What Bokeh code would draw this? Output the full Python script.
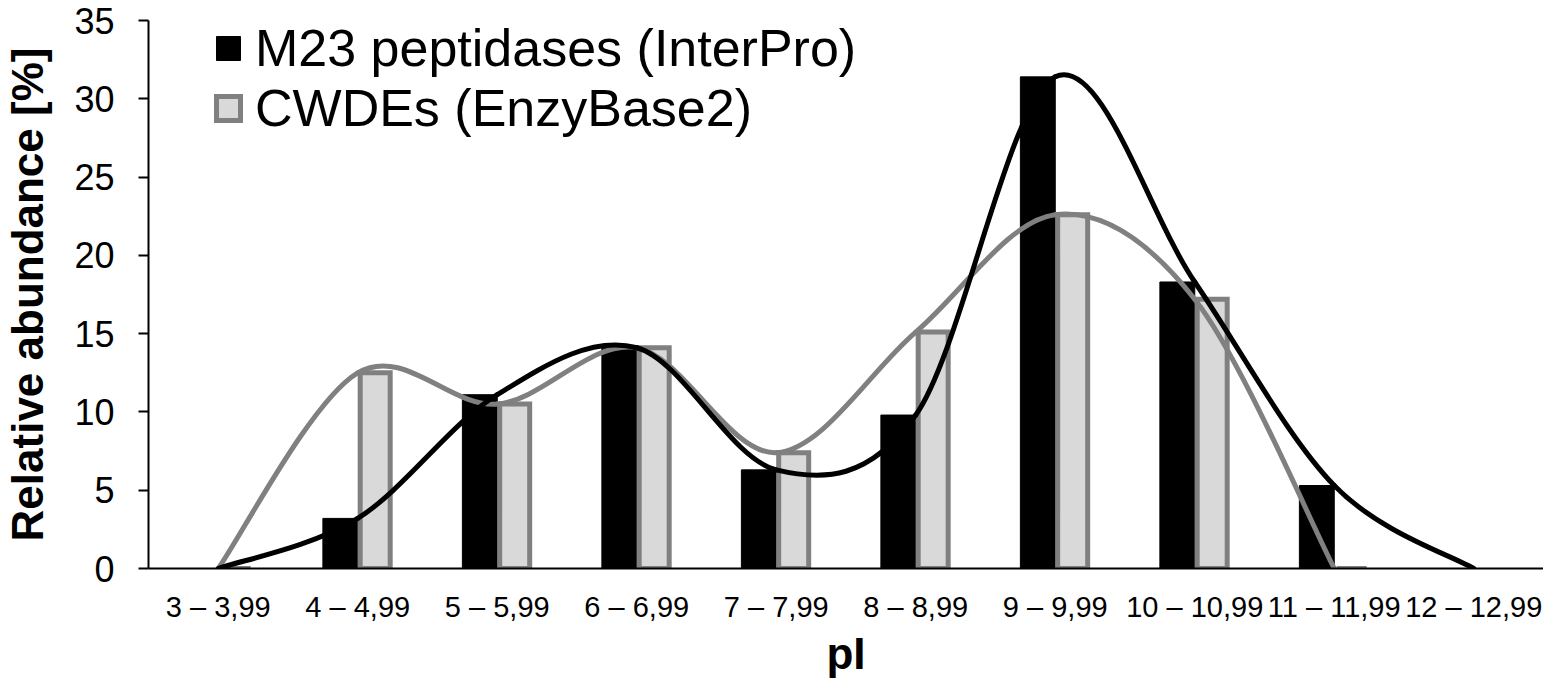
import numpy as np
from bokeh.plotting import figure
from bokeh.models import Range1d, FixedTicker, Legend, LegendItem
from bokeh.embed import file_html
from bokeh.resources import INLINE

# ---------------- data ----------------
categories = ["3 – 3,99", "4 – 4,99", "5 – 5,99", "6 – 6,99", "7 – 7,99",
              "8 – 8,99", "9 – 9,99", "10 – 10,99", "11 – 11,99", "12 – 12,99"]
m23_values = [0, 3.2, 11.1, 14.1, 6.3, 9.8, 31.4, 18.3, 5.3, 0]
cwde_values = [0, 12.5, 10.5, 14.1, 7.4, 15.1, 22.6, 17.2, 0]   # no value for 12 – 12,99
y_ticks = [0, 5, 10, 15, 20, 25, 30, 35]
series_names = ["M23 peptidases (InterPro)", "CWDEs (EnzyBase2)"]

FONT = "Liberation Sans"
BLACK = "#000000"
GREY_LINE = "#808080"
GREY_FILL = "#d9d9d9"


def smooth_segments(vals):
    """Cubic Bezier segments of a Catmull-Rom style smoothed line (Excel-like)."""
    ys = np.asarray(vals, dtype=float)
    xs = np.arange(len(ys), dtype=float)
    n = len(ys)
    seg = {k: [] for k in ["x0", "y0", "x1", "y1", "cx0", "cy0", "cx1", "cy1"]}
    for i in range(n - 1):
        a = max(i - 1, 0)
        b = min(i + 2, n - 1)
        seg["x0"].append(xs[i]); seg["y0"].append(ys[i])
        seg["x1"].append(xs[i + 1]); seg["y1"].append(ys[i + 1])
        seg["cx0"].append(xs[i] + (xs[i + 1] - xs[a]) / 6.0)
        seg["cy0"].append(ys[i] + (ys[i + 1] - ys[a]) / 6.0)
        seg["cx1"].append(xs[i + 1] - (xs[b] - xs[i]) / 6.0)
        seg["cy1"].append(ys[i + 1] - (ys[b] - ys[i]) / 6.0)
    return seg


p = figure(width=1543, height=681, output_backend="svg", toolbar_location=None,
           x_range=Range1d(-0.5, len(categories) - 0.5), y_range=Range1d(0, 35),
           min_border_left=144, min_border_right=0, min_border_top=20,
           min_border_bottom=113)
p.outline_line_color = None
p.xgrid.visible = False
p.ygrid.visible = False
p.background_fill_color = "white"
p.border_fill_color = "white"

bar_w = 0.25
grey_w = 0.215
xs_m23 = [i - bar_w / 2 for i in range(len(m23_values))]
xs_cwde = [i + bar_w / 2 for i in range(len(cwde_values))]

r_black = p.vbar(x=xs_m23, top=m23_values, bottom=0, width=bar_w,
                 fill_color=BLACK, line_color=BLACK, line_width=1)
r_grey = p.vbar(x=xs_cwde, top=cwde_values, bottom=0, width=grey_w,
                fill_color=GREY_FILL, line_color=GREY_LINE, line_width=5,
                line_join="miter")

sg = smooth_segments(cwde_values)
p.bezier(line_color=GREY_LINE, line_width=5, line_cap="round", **sg)
sb = smooth_segments(m23_values)
p.bezier(line_color=BLACK, line_width=5, line_cap="round", **sb)

# axes
xa = p.xaxis[0]
xa.ticker = FixedTicker(ticks=list(range(len(categories))))
xa.major_label_overrides = {i: c for i, c in enumerate(categories)}
xa.major_tick_line_color = None
xa.minor_tick_line_color = None
xa.axis_line_width = 2
xa.major_label_text_font = FONT
xa.major_label_text_font_size = "29px"
xa.major_label_text_color = "black"
xa.major_label_standoff = 16
xa.axis_label = "pI"
xa.axis_label_text_font = FONT
xa.axis_label_text_font_style = "bold"
xa.axis_label_text_font_size = "44px"
xa.axis_label_text_color = "black"
xa.axis_label_standoff = 3

ya = p.yaxis[0]
ya.ticker = FixedTicker(ticks=y_ticks)
ya.minor_tick_line_color = None
ya.major_tick_in = 0
ya.major_tick_out = 10
ya.major_tick_line_width = 2
ya.axis_line_width = 2
ya.major_label_text_font = FONT
ya.major_label_text_font_size = "36px"
ya.major_label_text_color = "black"
ya.major_label_standoff = 24
ya.axis_label = "Relative abundance [%]"
ya.axis_label_text_font = FONT
ya.axis_label_text_font_style = "bold"
ya.axis_label_text_font_size = "44px"
ya.axis_label_text_color = "black"
ya.axis_label_standoff = 19

legend = Legend(items=[LegendItem(label=series_names[0], renderers=[r_black]),
                       LegendItem(label=series_names[1], renderers=[r_grey])],
                location=(65, 430))
legend.border_line_color = None
legend.background_fill_alpha = 0
legend.padding = 0
legend.margin = 0
legend.spacing = -4
legend.glyph_width = 30
legend.glyph_height = 30
legend.label_standoff = 12
legend.label_text_font = FONT
legend.label_text_font_size = "52px"
legend.label_text_color = "black"
p.add_layout(legend, "center")

open("out.html", "w").write(file_html(p, INLINE))
